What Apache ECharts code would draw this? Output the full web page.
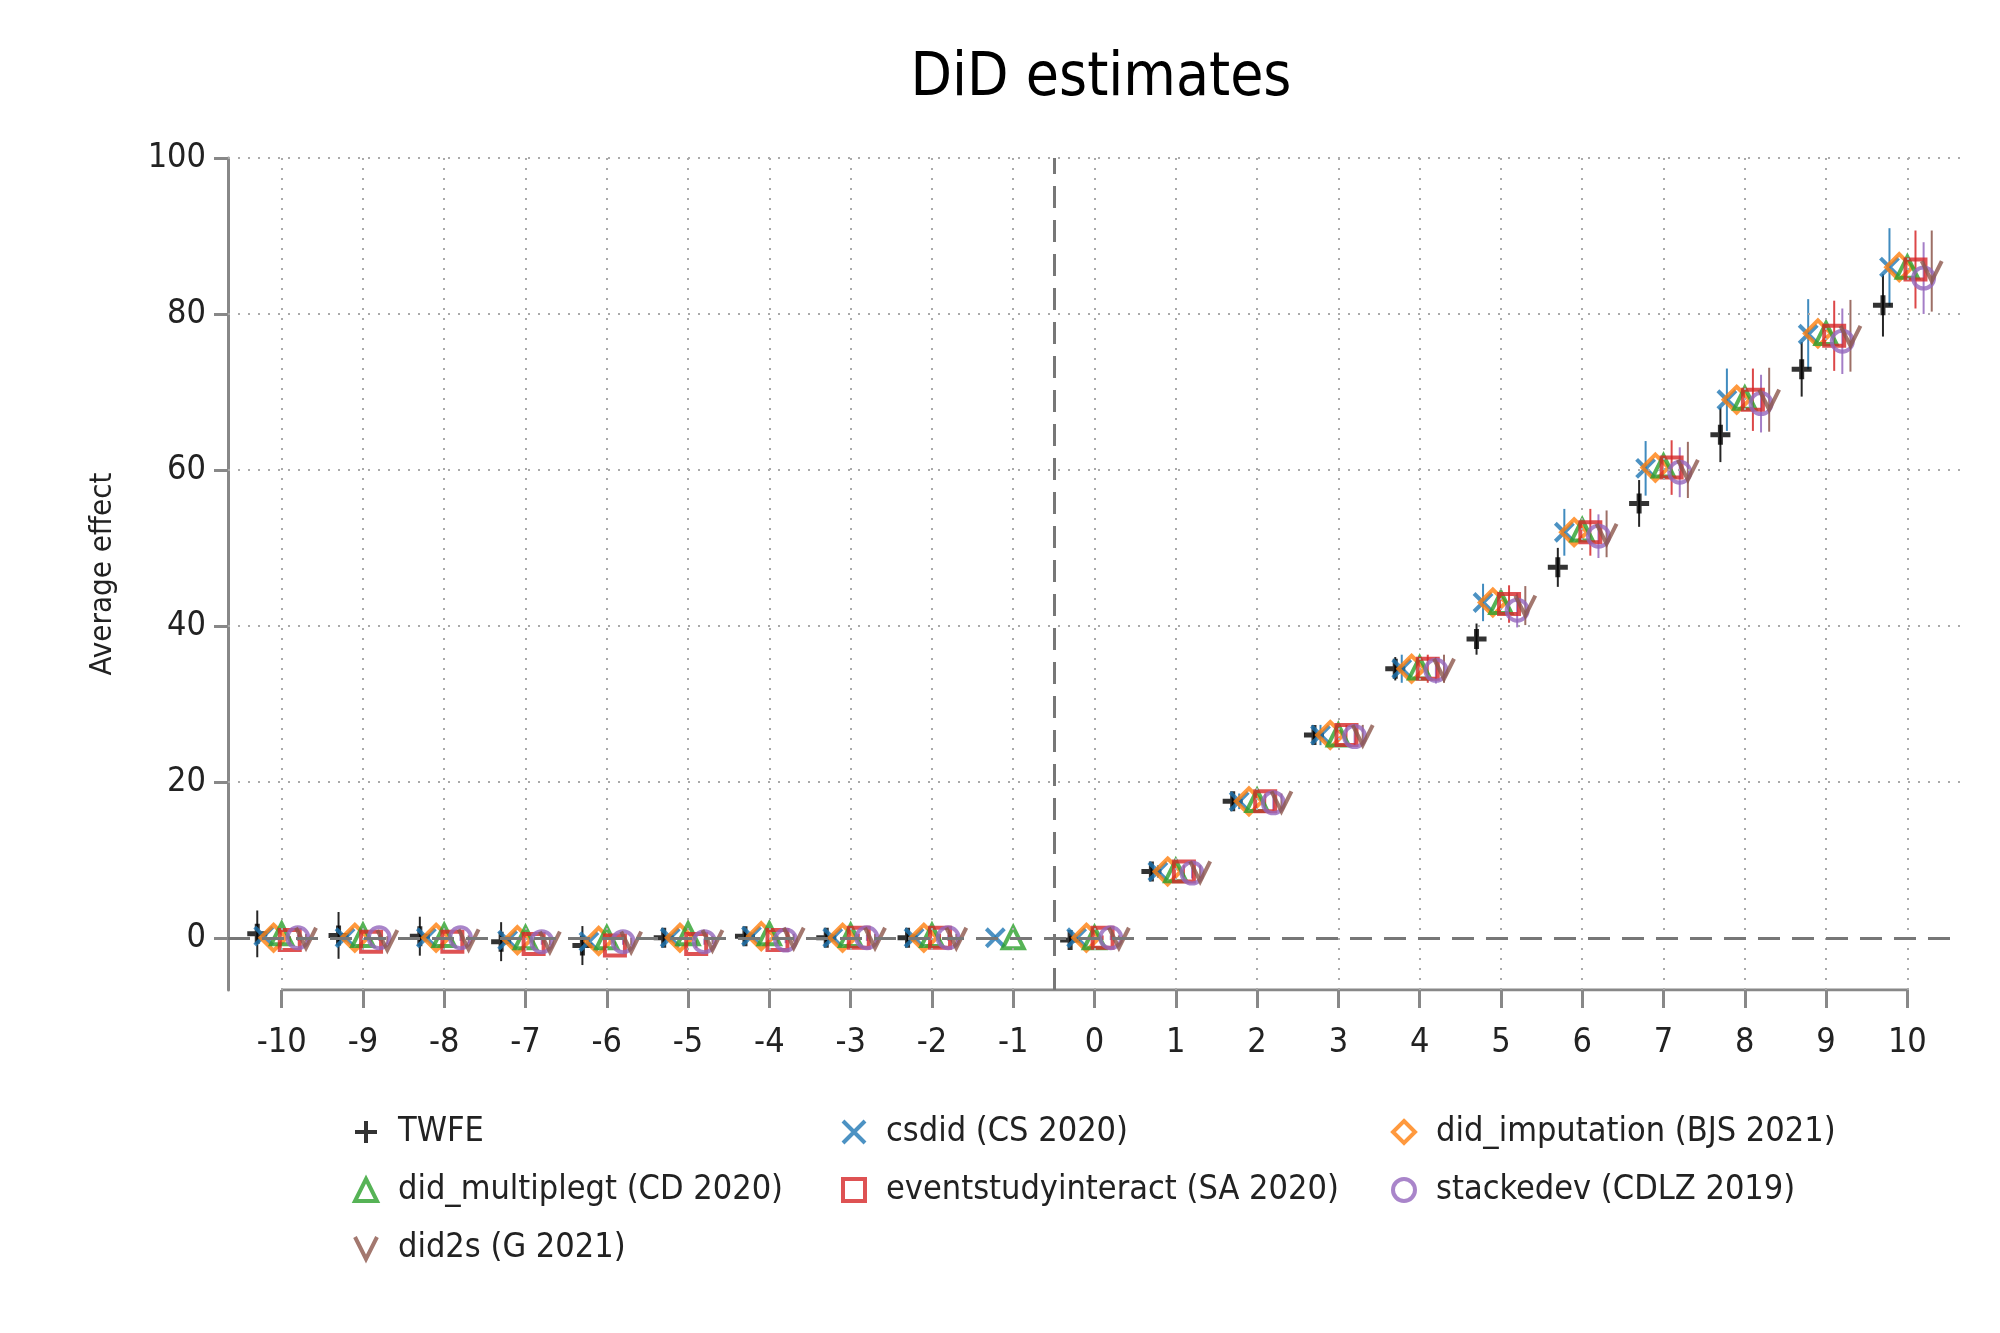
<!DOCTYPE html>
<html>
<head>
<meta charset="utf-8">
<script src="https://cdn.jsdelivr.net/npm/echarts@6/dist/echarts.min.js"></script>
<style>html,body{margin:0;background:#fff}#c{width:2000px;height:1333px}</style>
</head>
<body>
<div id="c"></div>
<script>
var periods = [-10,-9,-8,-7,-6,-5,-4,-3,-2,-1,0,1,2,3,4,5,6,7,8,9,10];
var yTicks = [0,20,40,60,80,100];
// point estimates per estimator
var twfe       = [0.5,0.3,0.2,-0.5,-1,0,0.2,0,0,null,-0.3,8.5,17.5,26,34.5,38.3,47.5,55.7,64.5,72.9,81.1];
var csdid      = [0.2,0,0,-0.3,-0.5,0,0.2,0,0,0,0,8.5,17.5,26,34.5,43,52,60.2,69,77.4,86];
var imputation = [0,0,0,-0.3,-0.4,0,0.2,0,0,null,0,8.5,17.5,26,34.5,43,52,60.3,69,77.5,86];
var multiplegt = [0.5,0.3,0.3,0,0,0.5,0.5,0.3,0.3,0,0,8.6,17.6,26,34.6,43,52.3,60.5,69.2,77.5,86];
var eventstudy = [-0.3,-0.5,-0.5,-0.8,-1,-0.8,-0.3,0,0,null,0,8.5,17.5,26,34.5,42.8,52,60.3,69,77.2,85.7];
var stackedev  = [0,0,0,-0.5,-0.5,-0.5,-0.3,0,0,null,0,8.3,17.3,25.8,34.3,42,51.5,59.7,68.5,76.5,84.6];
var did2s      = [0,-0.3,-0.2,-0.5,-0.5,-0.3,0,0,0,null,0,8.5,17.5,26,34.5,42.6,51.8,60,69,77.2,85.5];
// CI half widths
var twfeCI       = [3,3,2.5,2.5,2.5,0.8,0.8,0.8,0.8,null,0.5,1,1,1,1.5,2,2.5,3,3.5,3.5,4];
var csdidCI      = [0.5,0.5,0.5,0.5,0.5,0.5,0.5,0.5,0.5,0.3,0.3,0.8,1,1.3,1.8,2.4,3,3.5,4,4.5,5];
var eventstudyCI = [0.5,0.5,0.5,0.5,0.5,0.5,0.5,0.5,0.5,null,0.3,0.8,1,1.3,1.8,2.4,3,3.5,4,4.5,5];
var stackedevCI  = [0.4,0.4,0.4,0.4,0.4,0.4,0.4,0.4,0.4,null,0.3,0.7,1,1.2,1.7,2.2,2.8,3.2,3.7,4.2,4.6];
var did2sCI      = [0.5,0.5,0.5,0.5,0.5,0.5,0.5,0.5,0.5,null,0.3,0.8,1,1.3,1.8,2.5,3,3.6,4.1,4.6,5.2];

var FONT = "'DejaVu Sans Condensed','Liberation Sans Narrow',sans-serif";
var yMin = -6.7;

var estimators = [
	{name:'TWFE', vals:twfe, ci:twfeCI, off:-0.3, color:'#000000', symbol:'path://M5,0L5,10M0,5L10,5', size:20, bw:5},
	{name:'csdid (CS 2020)', vals:csdid, ci:csdidCI, off:-0.22, color:'#1f77b4', symbol:'path://M0,0L10,10M10,0L0,10', size:18, bw:4},
	{name:'did_imputation (BJS 2021)', vals:imputation, ci:null, off:-0.1, color:'#ff7f0e', symbol:'diamond', size:26, bw:4},
	{name:'did_multiplegt (CD 2020)', vals:multiplegt, ci:null, off:0, color:'#2ca02c', symbol:'triangle', size:21, bw:4},
	{name:'eventstudyinteract (SA 2020)', vals:eventstudy, ci:eventstudyCI, off:0.1, color:'#d62728', symbol:'rect', size:20, bw:4},
	{name:'stackedev (CDLZ 2019)', vals:stackedev, ci:stackedevCI, off:0.2, color:'#9467bd', symbol:'circle', size:21, bw:4},
	{name:'did2s (G 2021)', vals:did2s, ci:did2sCI, off:0.3, color:'#8c564b', symbol:'path://M0,0L5,10L10,0', size:20, bw:4}
];

var series = [];
// vertical dotted grid lines, dashed references, and the short x axis line
series.push({
	type:'line', data:[[periods[0], yMin],[periods[periods.length-1], yMin]],
	symbol:'none', lineStyle:{color:'#888', width:3}, silent:true, z:1,
	markLine:{
		silent:true, symbol:'none', label:{show:false},
		data: periods.map(function(p){ return {xAxis:p, lineStyle:{color:'#aaa', type:[2,8], width:2}}; })
			.concat(yTicks.slice(1).map(function(t){ return {yAxis:t, lineStyle:{color:'#aaa', type:[2,8], width:2}}; }))
			.concat([
				{xAxis:-0.5, lineStyle:{color:'#777', type:[22,12], width:3}},
				{yAxis:0, lineStyle:{color:'#777', type:[22,12], width:3}}
			])
	}
});

estimators.forEach(function(e){
	if (e.ci) {
		var ciData = [];
		e.vals.forEach(function(v, i){
			if (v !== null && e.ci[i] !== null) ciData.push([periods[i] + e.off, v - e.ci[i], v + e.ci[i]]);
		});
		series.push({
			type:'custom', name:e.name + ' CI', z:2, silent:true, data:ciData,
			renderItem:function(params, api){
				var a = api.coord([api.value(0), api.value(1)]);
				var b = api.coord([api.value(0), api.value(2)]);
				return {type:'line', shape:{x1:a[0],y1:a[1],x2:b[0],y2:b[1]}, style:{stroke:e.color, lineWidth:2, opacity:0.85}};
			}
		});
	}
	var pts = [];
	e.vals.forEach(function(v, i){ if (v !== null) pts.push([periods[i] + e.off, v]); });
	series.push({
		type:'scatter', name:e.name, data:pts, z:3,
		symbol:e.symbol, symbolSize:e.size,
		itemStyle:{color:'rgba(0,0,0,0)', borderColor:e.color, borderWidth:e.bw}
	});
});

function legendCol(left, names){
	return {
		orient:'vertical', left:left, top:1110, itemGap:24, itemWidth:22, itemHeight:22,
		data:names,
		itemStyle:{borderWidth:4},
		textStyle:{fontFamily:FONT, fontSize:34, color:'#222', padding:[0,0,0,16]}
	};
}

var chart = echarts.init(document.getElementById('c'));
chart.setOption({
	animation:false,
	backgroundColor:'#fff',
	title:{text:'DiD estimates', left:1096, textAlign:'center', top:44,
		textStyle:{fontFamily:FONT, fontSize:60, fontWeight:'normal', color:'#000'}},
	legend:[
		legendCol(348, ['TWFE','did_multiplegt (CD 2020)','did2s (G 2021)']),
		legendCol(836, ['csdid (CS 2020)','eventstudyinteract (SA 2020)']),
		legendCol(1386, ['did_imputation (BJS 2021)','stackedev (CDLZ 2019)'])
	],
	grid:{left:228, right:39, top:158, bottom:343},
	xAxis:{
		type:'value', min:-10.66, max:10.66,
		axisLine:{show:false, onZero:false}, splitLine:{show:false},
		axisTick:{show:true, customValues:periods, length:18, lineStyle:{color:'#888', width:3}},
		axisLabel:{customValues:periods, margin:36, fontFamily:FONT, fontSize:34, color:'#222'}
	},
	yAxis:{
		type:'value', min:yMin, max:100,
		name:'Average effect', nameLocation:'middle', nameGap:110,
		nameTextStyle:{fontFamily:FONT, fontSize:31, color:'#222'},
		axisLine:{show:true, onZero:false, lineStyle:{color:'#888', width:3}},
		axisTick:{show:true, customValues:yTicks, length:14, lineStyle:{color:'#888', width:3}},
		axisLabel:{customValues:yTicks, margin:22, fontFamily:FONT, fontSize:34, color:'#222'},
		splitLine:{show:false}
	},
	series:series
});
</script>
</body>
</html>
